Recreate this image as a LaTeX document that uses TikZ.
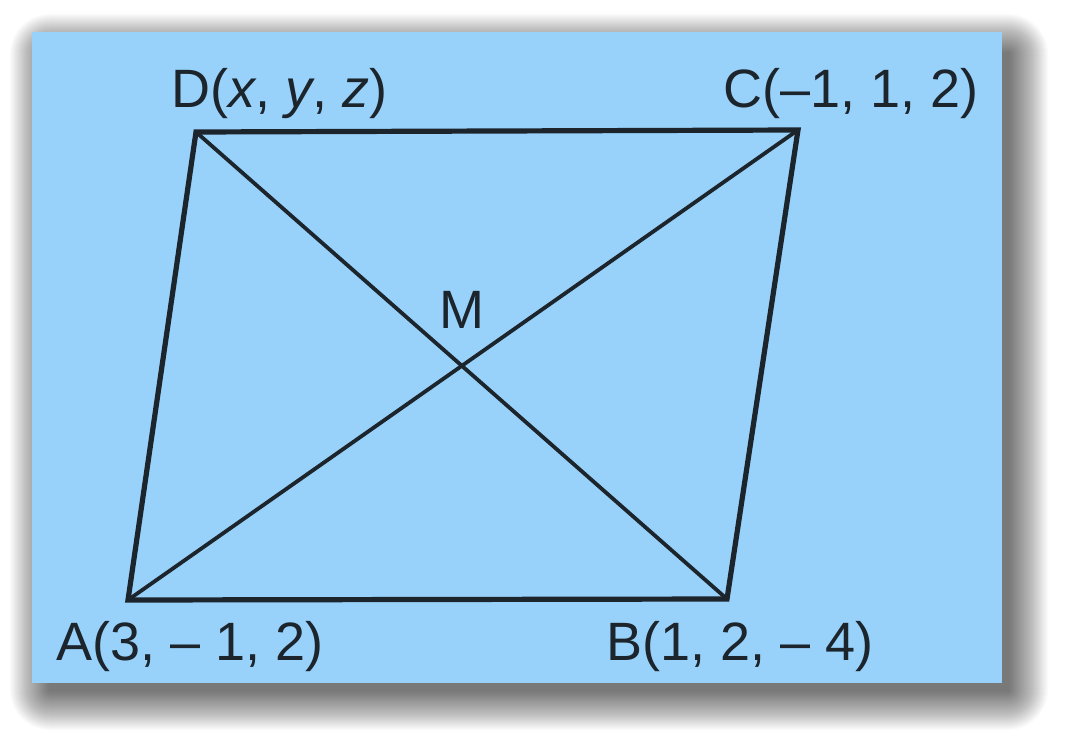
\documentclass[tikz,border=0pt]{standalone}
\usepackage{fontspec}
\setmainfont{Liberation Sans}
\definecolor{panelblue}{RGB}{152,210,251}
\definecolor{ink}{RGB}{28,36,44}
\tikzset{
  side/.style={draw=ink, line width=5.2pt, line join=miter},
  diag/.style={draw=ink, line width=3.8pt},
  lbl/.style={anchor=base west, inner sep=0pt, text=ink, font=\fontsize{54}{60}\selectfont},
}
\begin{document}
\begin{tikzpicture}[x=1pt,y=-1pt]
\useasboundingbox (0,0) rectangle (1067,749);
\fill[white] (0,0) rectangle (1067,749);
% soft drop shadow
\foreach \e in {1,...,40}{
  \fill[black, opacity=0.016, rounded corners=\e pt] (50-\e,54-\e) rectangle (1008+\e,690+\e);
}
\fill[panelblue] (32,32) rectangle (1002,683);
\coordinate (A) at (128,600);
\coordinate (B) at (727,599);
\coordinate (C) at (798,130);
\coordinate (D) at (196,132);
\draw[diag] (A) -- (C);
\draw[diag] (D) -- (B);
\draw[side] (A) -- (B) -- (C) -- (D) -- cycle;
\node[lbl] (lD) at (171,107) {D(\textit{x}, \textit{y}, \textit{z})};
\node[lbl] (lC) at (723,107) {C(–1, 1, 2)};
\node[lbl] (lA) at (56,660) {A(3, – 1, 2)};
\node[lbl] (lB) at (606,660) {B(1, 2, – 4)};
\node[lbl] (lM) at (439,328) {M};
\end{tikzpicture}
\end{document}
